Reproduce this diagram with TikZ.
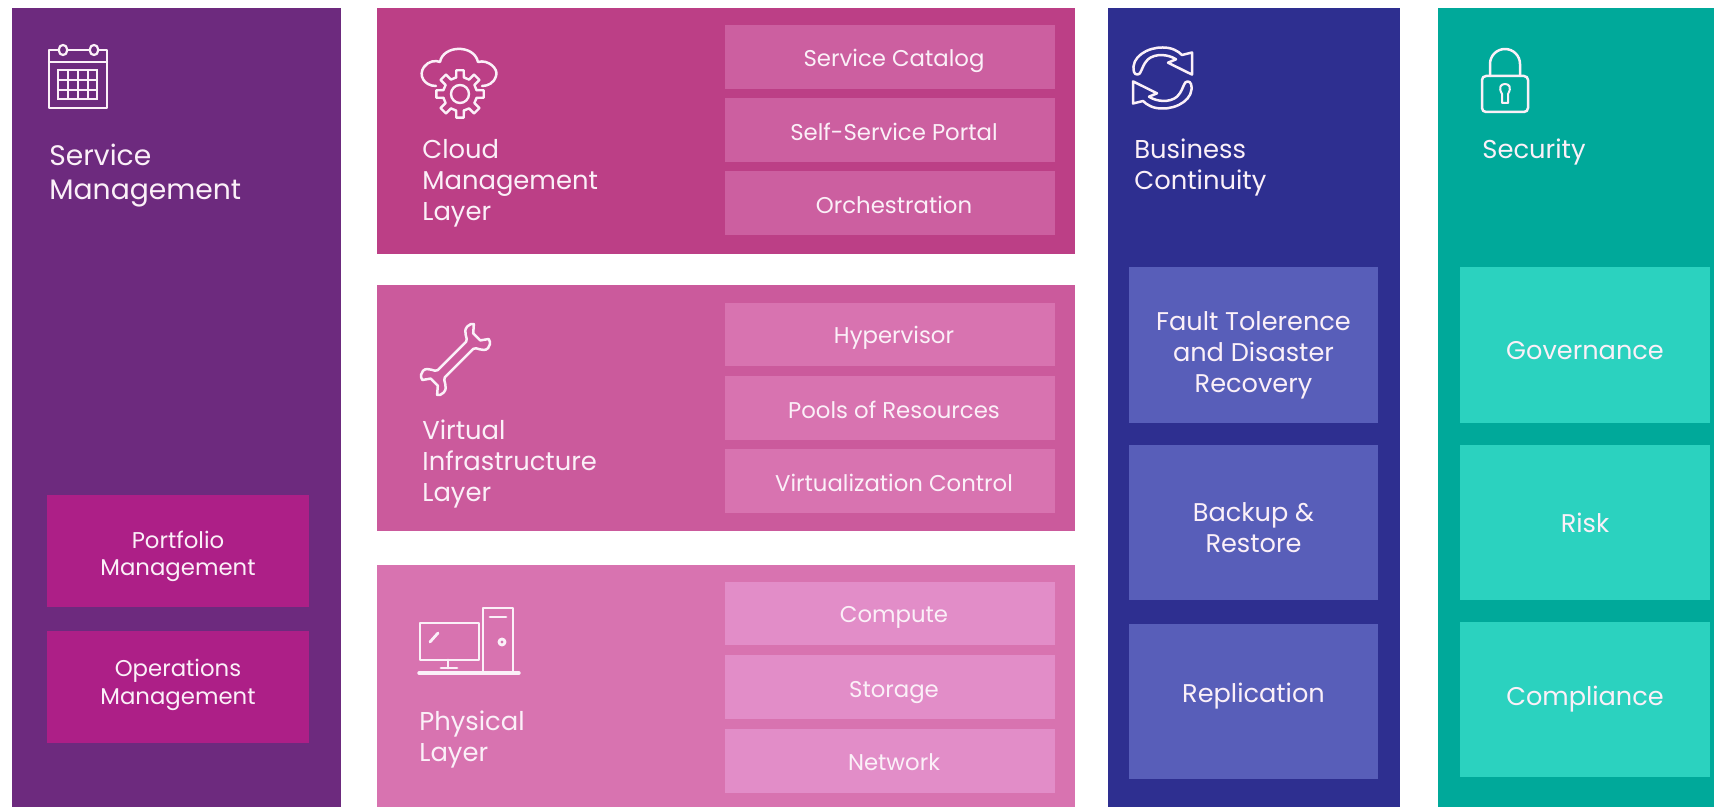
\documentclass[tikz,border=0pt]{standalone}
\usepackage{fontspec}
\setmainfont{Poppins}
\definecolor{cPurple}{HTML}{6D2A7E}\definecolor{cPurpleS}{HTML}{AD1F87}
\definecolor{cPinkA}{HTML}{BC3F86}\definecolor{cPinkAS}{HTML}{CC5FA0}
\definecolor{cPinkB}{HTML}{CB5A9C}\definecolor{cPinkBS}{HTML}{D873B0}
\definecolor{cPinkC}{HTML}{D873B0}\definecolor{cPinkCS}{HTML}{E28DC8}
\definecolor{cBlue}{HTML}{2E2F90}\definecolor{cBlueS}{HTML}{585EB9}
\definecolor{cTeal}{HTML}{00A99A}\definecolor{cTealS}{HTML}{2BD2BF}
\definecolor{ink}{HTML}{FBF0F8}
\newcommand{\bx}[6]{\node[anchor=north west,inner sep=0pt,outer sep=0pt,fill=#6,
  minimum width={(#4-#2)*0.5pt},minimum height={(#5-#3)*0.5pt}] (#1) at (#2,#3) {};}
\newcommand{\bt}[9]{\bx{#1}{#2}{#3}{#4}{#5}{#6}
  \node[text=ink,align=center,inner sep=0pt,font=#7,shift={(#9)}] (#1t) at (#1) {#8};}
\tikzset{
  head/.style={anchor=west,text=ink,align=left,inner sep=0pt},
  icon/.style={draw=ink,line width=1.25pt,line join=round,line cap=round},
  thin icon/.style={draw=ink,line width=0.7pt}
}
\newcommand{\fa}{\fontsize{11.4}{13.6}\selectfont}
\newcommand{\fb}{\fontsize{12.8}{15.5}\selectfont}
\newcommand{\fc}{\fontsize{12.9}{15.5}\selectfont}
\newcommand{\fd}{\fontsize{14.1}{17}\selectfont}
\newcommand{\syncarrow}{(1134,72) .. controls (1130,57) and (1148,47) .. (1163,47.5) .. controls (1172,47.5) and (1178,51) .. (1182,55) -- (1192,52.5) -- (1192,74.6) -- (1168,62.7) -- (1176,59.3) .. controls (1168,54) and (1155,53.3) .. (1148,59.3) .. controls (1143,64.4) and (1143,67.8) .. (1141,71.2) .. controls (1140,75.5) and (1135,75.5) .. (1134,72) -- cycle}
\begin{document}
\begin{tikzpicture}[x=0.5pt,y=-0.5pt]
\useasboundingbox (0,0) rectangle (1714,807);
\fill[white] (0,0) rectangle (1714,807);
% panels
\bx{pSvc}{12}{8}{341}{807}{cPurple}
\bx{pCloud}{377}{8}{1075}{254}{cPinkA}
\bx{pVirt}{377}{285}{1075}{531}{cPinkB}
\bx{pPhys}{377}{565}{1075}{807}{cPinkC}
\bx{pBus}{1108}{8}{1400}{807}{cBlue}
\bx{pSec}{1438}{8}{1714}{807}{cTeal}
% sub boxes
\bt{a1}{47}{495}{309}{607}{cPurpleS}{\fa}{Portfolio\\Management}{0,5.5}
\bt{a2}{47}{631}{309}{743}{cPurpleS}{\fa}{Operations\\Management}{0,-2}
\bt{b1}{725}{25}{1055}{89}{cPinkAS}{\fa}{Service Catalog}{4,4}
\bt{b2}{725}{98}{1055}{162}{cPinkAS}{\fa}{Self-Service Portal}{4,2}
\bt{b3}{725}{171}{1055}{235}{cPinkAS}{\fa}{Orchestration}{4,2}
\bt{c1}{725}{303}{1055}{366}{cPinkBS}{\fa}{Hypervisor}{4,3.5}
\bt{c2}{725}{376}{1055}{440}{cPinkBS}{\fa}{Pools of Resources}{4,2}
\bt{c3}{725}{449}{1055}{513}{cPinkBS}{\fa}{Virtualization Control}{4,1.5}
\bt{d1}{725}{582}{1055}{645}{cPinkCS}{\fa}{Compute}{4,4}
\bt{d2}{725}{655}{1055}{719}{cPinkCS}{\fa}{Storage}{4,6}
\bt{d3}{725}{729}{1055}{793}{cPinkCS}{\fa}{Network}{4,1}
\bt{e1}{1129}{267}{1378}{423}{cBlueS}{\fb}{Fault Tolerence\\and Disaster\\Recovery}{0,10}
\bt{e2}{1129}{445}{1378}{600}{cBlueS}{\fb}{Backup \&\\Restore}{0,5}
\bt{e3}{1129}{624}{1378}{779}{cBlueS}{\fb}{Replication}{0,-5}
\bt{f1}{1460}{267}{1710}{423}{cTealS}{\fb}{Governance}{0,6}
\bt{f2}{1460}{445}{1710}{600}{cTealS}{\fb}{Risk}{0,0}
\bt{f3}{1460}{622}{1710}{777}{cTealS}{\fb}{Compliance}{0,0}
% headings
\node[head,font=\fd] (tSvc) at (49,176) {Service\\Management};
\node[head,font=\fc] (tCloud) at (422,183) {Cloud\\Management\\Layer};
\node[head,font=\fc] (tVirt) at (422,464) {Virtual\\Infrastructure\\Layer};
\node[head,font=\fc] (tPhys) at (419,740) {Physical\\Layer};
\node[head,font=\fc] (tBus) at (1134,167.5) {Business\\Continuity};
\node[head,font=\fc] (tSec) at (1482,152) {Security};
% calendar icon
\draw[icon,line width=1.1pt] (59,50) -- (49,50) -- (49,108) -- (107,108) -- (107,50) -- (98,50) (68,50) -- (89,50) (49,62) -- (107,62);
\draw[icon,line width=1.1pt,rounded corners=2pt] (59,45) rectangle (67,55) (90,45) rectangle (98,55);
\draw[thin icon,line width=1.1pt] (58,70) rectangle (97,99);
\foreach \x in {68,78,88} \draw[thin icon] (\x,70) -- (\x,99);
\foreach \y in {80,90} \draw[thin icon] (58,\y) -- (97,\y);
% cloud + gear icon
\draw[icon] (436,86) .. controls (424,86) and (418,75) .. (424,67) .. controls (428,61) and (436,60) .. (440,62) .. controls (443,45) and (474,44) .. (478,62) .. controls (488,59) and (499,69) .. (496,76) .. controls (494,83) and (488,86) .. (482,86);
\begin{scope}[shift={(460,94)}]
\foreach \a in {0,45,...,315}
  \draw[icon,line width=1.2pt] (\a-13:17) -- (\a-9:24) -- (\a+9:24) -- (\a+13:17) -- (\a+32:17);
\draw[icon,line width=1.2pt] (0,0) circle (9);
\end{scope}
% wrench icon
\begin{scope}[shift={(455.5,359.5)},rotate=45]
\draw[icon] (-20,-5) -- (20,-5) .. controls (24,-5) and (24,-15) .. (32,-15) .. controls (35,-15) and (37,-14) .. (38,-12) -- (31,-6) -- (31,4) -- (38,9) .. controls (37,13) and (34,15) .. (31,15) .. controls (24,15) and (24,5) .. (20,5) -- (-20,5) .. controls (-24,5) and (-24,15) .. (-32,15) .. controls (-35,15) and (-37,14) .. (-38,12) -- (-31,6) -- (-31,-4) -- (-38,-9) .. controls (-37,-13) and (-34,-15) .. (-31,-15) .. controls (-24,-15) and (-24,-5) .. (-20,-5) -- cycle;
\end{scope}
% computer icon
\draw[icon,line width=1.4pt] (420,623) rectangle (479,660);
\draw[icon,line width=1.4pt] (430,642) -- (438,633);
\draw[icon,line width=1.4pt] (448,660) -- (448,668) (441,668) -- (457,668);
\draw[icon,line width=1.4pt] (483,672) -- (483,608) -- (513,608) -- (513,672);
\draw[icon,line width=1.4pt] (490,617) -- (506,617);
\draw[icon,line width=1.4pt] (502,642) circle (3);
\draw[icon,line width=1.7pt] (419,673) -- (519,673);
% sync icon
\draw[icon] \syncarrow;
\begin{scope}[rotate around={180:(1162.5,78)}]
\draw[icon] \syncarrow;
\end{scope}
% lock icon
\draw[icon,rounded corners=2pt] (1482,76) rectangle (1528,112);
\draw[icon] (1490,76) -- (1490,64) arc[start angle=180,end angle=360,radius=15] -- (1520,76);
\draw[icon,line width=1pt] (1502,94) .. controls (1498,87) and (1501,84) .. (1505,84) .. controls (1509,84) and (1512,87) .. (1508,94) -- (1508,103) -- (1502,103) -- cycle;
\end{tikzpicture}
\end{document}
